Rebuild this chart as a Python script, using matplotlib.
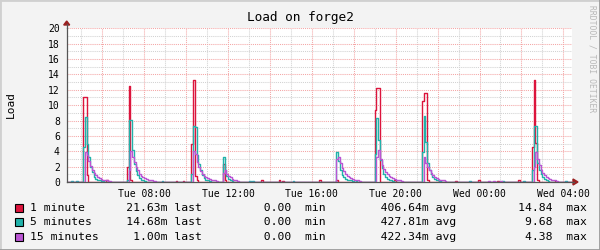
import numpy as np
import matplotlib
matplotlib.use("Agg")
from matplotlib import pyplot as plt
from matplotlib.lines import Line2D

# hours since Tue 00:00, 5 minute samples
t_start = 4.25
t_end = 28.5
step = 1.0 / 12

# load spikes: (start hour, values every 5 minutes)
red_spikes = [
    (5.05, [11.0, 11.0, 0.9, 0.0]),
    (7.13, [2.0, 12.5, 0.3, 0.0]),
    (10.25, [5.0, 13.3, 0.8, 0.3]),
    (11.78, [2.3, 0.3]),
    (17.16, [0.3]),
    (18.99, [9.4, 12.2, 12.2, 0.0]),
    (21.29, [10.6, 11.6, 11.6, 0.2]),
    (26.48, [4.6, 13.3, 5.1, 0.3]),
]
teal_spikes = [
    (5.05, [4.5, 8.4, 5.0, 3.2, 2.0, 1.3, 0.7, 0.4, 0.3, 0.2, 0.1, 0.1]),
    (7.13, [0.3, 8.1, 8.1, 4.2, 2.4, 1.4, 0.9, 0.5, 0.3, 0.2, 0.1]),
    (10.25, [1.0, 7.3, 7.1, 3.5, 2.4, 1.5, 0.9, 0.5, 0.3, 0.2, 0.1]),
    (11.78, [3.2, 1.5, 0.8, 0.4, 0.2, 0.1]),
    (17.16, [3.9, 2.7, 1.5, 0.9, 0.6, 0.4, 0.3, 0.2, 0.2, 0.1]),
    (18.99, [3.7, 8.3, 5.5, 2.8, 1.8, 1.1, 0.7, 0.4, 0.3, 0.2, 0.1]),
    (21.29, [3.9, 8.6, 5.2, 2.5, 1.5, 1.0, 0.6, 0.4, 0.3, 0.2, 0.1]),
    (26.48, [1.5, 7.3, 7.3, 2.5, 1.6, 1.0, 0.6, 0.4, 0.2, 0.1]),
]
purple_spikes = [
    (5.05, [0.0, 3.9, 3.5, 2.7, 2.1, 1.6, 1.2, 0.9, 0.7, 0.5, 0.4, 0.3, 0.2, 0.2, 0.1, 0.1]),
    (7.13, [0.0, 1.5, 4.0, 3.3, 2.6, 2.0, 1.5, 1.1, 0.8, 0.6, 0.5, 0.4, 0.3, 0.2, 0.2, 0.1, 0.1]),
    (10.25, [0.0, 4.0, 3.6, 2.6, 1.9, 1.4, 1.1, 0.8, 0.6, 0.5, 0.4, 0.3, 0.2, 0.2, 0.1]),
    (11.78, [1.2, 1.6, 1.1, 0.8, 0.6, 0.4, 0.3, 0.2, 0.1]),
    (17.16, [3.0, 3.3, 2.5, 1.8, 1.4, 1.0, 0.8, 0.6, 0.5, 0.4, 0.3, 0.2, 0.2, 0.1]),
    (18.99, [0.0, 3.2, 4.2, 3.0, 2.2, 1.7, 1.3, 1.0, 0.8, 0.6, 0.5, 0.4, 0.3, 0.2, 0.2, 0.1]),
    (21.29, [0.0, 3.3, 2.5, 2.0, 1.5, 1.2, 0.9, 0.7, 0.5, 0.4, 0.3, 0.2, 0.2, 0.1]),
    (26.48, [0.0, 2.0, 3.9, 3.0, 2.2, 1.6, 1.2, 0.9, 0.7, 0.5, 0.4, 0.3, 0.2, 0.2, 0.1]),
]
# small background blips: (hour, value)
red_blips = [(6.14, 0.25), (9.48, 0.15), (9.8, 0.1), (13.57, 0.2), (14.43, 0.2), (14.6, 0.15),
             (16.3, 0.2), (19.9, 0.2), (22.05, 0.15), (22.8, 0.1), (23.95, 0.2), (24.8, 0.15),
             (25.86, 0.2), (27.6, 0.15)]
teal_blips = [(4.52, 0.15), (4.76, 0.15), (8.86, 0.1), (13.0, 0.15), (13.2, 0.15), (15.1, 0.1),
              (18.1, 0.1), (23.5, 0.1), (25.1, 0.1), (26.1, 0.1), (28.1, 0.1)]
purple_blips = [(24.4, 0.1), (24.7, 0.1), (25.0, 0.1)]

labels = ["1 minute", "5 minutes", "15 minutes"]
colors = ["#dc143c", "#20b2aa", "#ba55d3"]
last_vals = ["21.63m", "14.68m", "1.00m"]
min_vals = ["0.00", "0.00", "0.00"]
avg_vals = ["406.64m", "427.81m", "422.34m"]
max_vals = ["14.84", "9.68", "4.38"]

x_ticks = [8, 12, 16, 20, 24, 28]
x_labels = ["Tue 08:00", "Tue 12:00", "Tue 16:00", "Tue 20:00", "Wed 00:00", "Wed 04:00"]

t = t_start + np.arange(int(round((t_end - t_start) / step)) + 1) * step


def build(spikes, blips):
    y = np.zeros(len(t))
    for start, vals in spikes:
        i = int(round((start - t_start) / step))
        y[i:i + len(vals)] = vals
    for h, v in blips:
        y[int(round((h - t_start) / step))] = v
    return y


series = [build(red_spikes, red_blips), build(teal_spikes, teal_blips),
          build(purple_spikes, purple_blips)]

W, H = 600, 250
fig = plt.figure(figsize=(6, 2.5), dpi=100, facecolor="#f3f3f3")
x0, x1, ytop, ybot = 66.7, 571.5, 28.3, 182
ax = fig.add_axes([x0 / W, 1 - ybot / H, (x1 - x0) / W, (ybot - ytop) / H])
ax.set_facecolor("white")

mono = "DejaVu Sans Mono"
minor_c = "#d2d2d2"
major_c = "#f4a6a6"
dots = (0, (1, 1))
for h in np.arange(5, 29):
    ax.axvline(h, color=major_c if h % 2 == 0 else minor_c, lw=0.75, ls=dots, zorder=0)
for v in range(1, 21):
    ax.axhline(v, color=major_c if v % 2 == 0 else minor_c, lw=0.75, ls=dots, zorder=0)

for y, c in zip(series, colors):
    ax.plot(t, y, drawstyle="steps-post", color=c, lw=1.0, zorder=2)

ax.set_xlim(4.30, 28.39)
ax.set_ylim(0, 20)
ax.set_xticks(x_ticks)
ax.set_xticklabels(x_labels, fontfamily=mono, fontsize=7)
ax.set_yticks(range(0, 21, 2))
ax.set_yticklabels([str(v) for v in range(0, 21, 2)], fontfamily=mono, fontsize=7)
ax.tick_params(length=0, pad=5)
for s in ["top", "right"]:
    ax.spines[s].set_visible(False)
for s in ["left", "bottom"]:
    ax.spines[s].set_color("#555555")
    ax.spines[s].set_linewidth(0.9)

# axis arrows
fig.add_artist(Line2D([x0 / W, x0 / W], [1 - ytop / H, 1 - 24 / H], color="#555555", lw=0.9))
fig.add_artist(Line2D([x1 / W, 574 / W], [1 - ybot / H, 1 - ybot / H], color="#555555", lw=0.9))
fig.add_artist(plt.Polygon([[(x0 - 3) / W, 1 - 25 / H], [(x0 + 3) / W, 1 - 25 / H],
                            [x0 / W, 1 - 21 / H]], closed=True, color="#9a2020",
                           transform=fig.transFigure))
fig.add_artist(plt.Polygon([[573 / W, 1 - 179 / H], [573 / W, 1 - 185 / H],
                            [578 / W, 1 - 182 / H]], closed=True, color="#9a2020",
                           transform=fig.transFigure))

fig.text(300 / W, 1 - 18 / H, "Load on forge2", ha="center", va="center",
         fontfamily=mono, fontsize=9.2)
fig.text(11 / W, 1 - 105 / H, "Load", ha="center", va="center", rotation=90,
         fontfamily=mono, fontsize=8)
fig.text(592 / W, 1 - 59 / H, "RRDTOOL / TOBI OETIKER", ha="center", va="center",
         rotation=-90, fontfamily=mono, fontsize=5.8, color="#b8b8b8")

rows_y = [208.3, 222, 236.7]
for i in range(3):
    yy = 1 - rows_y[i] / H
    fig.add_artist(plt.Rectangle((15 / W, yy - 4 / H), 8 / W, 8 / H, facecolor=colors[i],
                                 edgecolor="black", lw=0.8, transform=fig.transFigure))
    line = (f"{labels[i]:<11}{last_vals[i]:>9} last{min_vals[i]:>13}  min"
            f"{avg_vals[i]:>15} avg{max_vals[i]:>14}  max")
    fig.text(30 / W, yy, line, ha="left", va="center", fontfamily=mono, fontsize=8.2)

# frame
fig.add_artist(Line2D([0, 0, 1], [0, 1, 1], color="#d0d0d0", lw=2))
fig.add_artist(Line2D([0, 1, 1], [0, 0, 1], color="#9a9a9a", lw=2))

fig.savefig("out.png", dpi=100, facecolor=fig.get_facecolor())
